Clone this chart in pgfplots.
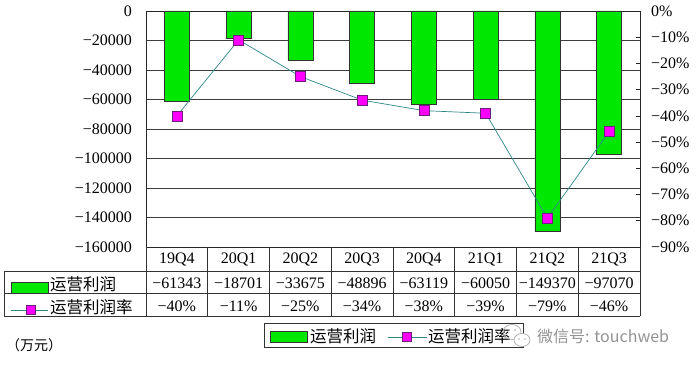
\documentclass[border=0pt]{standalone}
\usepackage{pgfplots}
\pgfplotsset{compat=1.18}
\usepackage{fontspec}
\setmainfont{Liberation Serif}
\newfontfamily\cjk{Noto Sans CJK SC}
\definecolor{bargreen}{RGB}{0,232,0}
\definecolor{linecol}{RGB}{45,135,135}
\definecolor{mk}{RGB}{255,0,255}
\definecolor{mkedge}{RGB}{110,30,120}
\definecolor{gridc}{RGB}{60,60,60}
\begin{document}
\begin{tikzpicture}[font=\fontsize{16}{19}\selectfont]
\useasboundingbox (0,0) rectangle (700pt,367pt);
\begin{axis}[at={(146pt,120pt)}, anchor=south west, scale only axis,
  width=494pt, height=236pt,
  xmin=-0.5, xmax=7.5, ymin=-160000, ymax=0, xtick=\empty,
  scaled y ticks=false,
  ytick={-160000,-140000,-120000,-100000,-80000,-60000,-40000,-20000,0},
  yticklabels={−160000,−140000,−120000,−100000,−80000,−60000,−40000,−20000,0},
  ymajorgrids, grid style={gridc, line width=0.7pt},
  axis line style={black!85, line width=0.8pt},
  ytick pos=left, major tick length=0pt,
  yticklabel style={anchor=east, inner sep=0pt, xshift=-14pt},
  ybar, bar width=25pt, clip=false]
\addplot[fill=bargreen, draw=black!80, line width=0.6pt] coordinates {
  (0,-61343) (1,-18701) (2,-33675) (3,-48896) (4,-63119) (5,-60050) (6,-149370) (7,-97070)};
\end{axis}
\begin{axis}[at={(146pt,120pt)}, anchor=south west, scale only axis,
  width=494pt, height=236pt,
  xmin=-0.5, xmax=7.5, ymin=-0.9, ymax=0,
  axis x line=none, axis y line*=right,
  scaled y ticks=false,
  ytick={-0.9,-0.8,-0.7,-0.6,-0.5,-0.4,-0.3,-0.2,-0.1,0},
  yticklabels={−90\%,−80\%,−70\%,−60\%,−50\%,−40\%,−30\%,−20\%,−10\%,0\%},
  major tick length=4pt, tick align=inside,
  tick style={black!85, line width=0.7pt},
  axis line style={black!85, line width=0.8pt},
  yticklabel style={anchor=west, inner sep=0pt, xshift=11pt}, clip=false]
\addplot[linecol, line width=0.7pt, mark=square*, mark size=5pt,
  mark options={fill=mk, draw=mkedge, line width=0.6pt}] coordinates {
  (0,-0.40) (1,-0.11) (2,-0.25) (3,-0.34) (4,-0.38) (5,-0.39) (6,-0.79) (7,-0.46)};
\end{axis}
\begin{scope}[x=1pt, y=-1pt, shift={(0pt,367pt)}]
  % table grid
  \draw[black!80, line width=0.8pt] (4,271) -- (640,271) (4,293) -- (640,293) (4,316) -- (640,316);
  \draw[black!80, line width=0.8pt] (4,271) -- (4,316) (146,247) -- (146,316) (640,247) -- (640,316);
  \foreach \k in {1,...,7} {\draw[black!80, line width=0.8pt] ({146+61.75*\k},247) -- ({146+61.75*\k},316);}
  % category labels
  \foreach \i/\c in {0/19Q4,1/20Q1,2/20Q2,3/20Q3,4/20Q4,5/21Q1,6/21Q2,7/21Q3}
    {\node at ({146+61.75*(\i+0.5)},259.5) {\c};}
  \foreach \i/\v in {0/−61343,1/−18701,2/−33675,3/−48896,4/−63119,5/−60050,6/−149370,7/−97070}
    {\node at ({146+61.75*(\i+0.5)},283) {\v};}
  \foreach \i/\v in {0/−40\%,1/−11\%,2/−25\%,3/−34\%,4/−38\%,5/−39\%,6/−79\%,7/−46\%}
    {\node at ({146+61.75*(\i+0.5)},306) {\v};}
  % row labels
  \filldraw[fill=bargreen, draw=black!80, line width=0.6pt] (11,282) rectangle (48,293);
  \node[anchor=west, inner sep=0pt, font=\cjk\fontsize{16.5}{19}\selectfont] at (50,284.5) {运营利润};
  \draw[linecol, line width=0.7pt] (11,310) -- (48,310);
  \filldraw[fill=mk, draw=mkedge, line width=0.6pt] (26,305.5) rectangle (35,314.5);
  \node[anchor=west, inner sep=0pt, font=\cjk\fontsize{16.5}{19}\selectfont] at (50,307) {运营利润率};
  % bottom legend
  \draw[black!80, line width=0.8pt] (264,323) rectangle (523,347);
  \filldraw[fill=bargreen, draw=black!80, line width=0.6pt] (270,331.5) rectangle (307,342.5);
  \node[anchor=west, inner sep=0pt, font=\cjk\fontsize{16.5}{19}\selectfont] at (310,336) {运营利润};
  \draw[linecol, line width=0.7pt] (388,337) -- (427,337);
  \filldraw[fill=mk, draw=mkedge, line width=0.6pt] (402.5,332.5) rectangle (411.5,341.5);
  \node[anchor=west, inner sep=0pt, font=\cjk\fontsize{16.5}{19}\selectfont] at (428,336) {运营利润率};
  % unit
  \node[anchor=west, inner sep=0pt, font=\cjk\fontsize{14}{17}\selectfont] at (6,345) {（万元）};
  % watermark
  \draw[gray!60, line width=0.8pt] (512,332) ellipse (9pt and 7.5pt);
  \draw[gray!60, line width=0.8pt, fill=white] (522,340) ellipse (8pt and 6.5pt);
  \fill[gray!60] (509,330) circle (1pt) (515,330) circle (1pt) (519,339) circle (0.9pt) (525,339) circle (0.9pt);
  \node[anchor=west, inner sep=0pt, text=gray!85, font=\cjk\fontsize{16}{19}\selectfont] at (537,336) {微信号: touchweb};
\end{scope}
\end{tikzpicture}
\end{document}
